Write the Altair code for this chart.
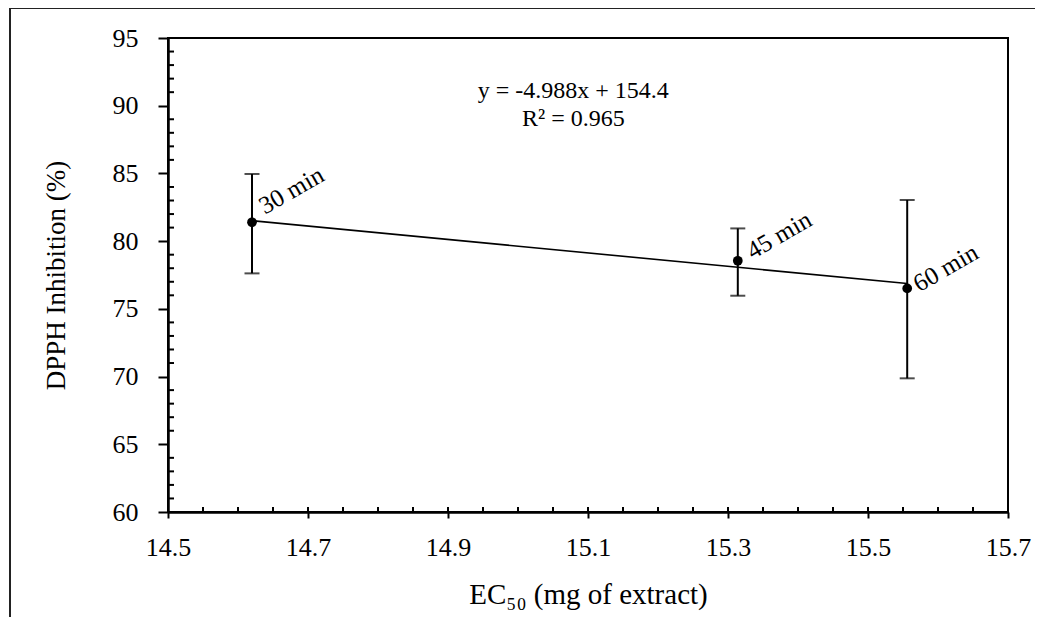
import altair as alt
import pandas as pd

# ---- data ----
time_labels = ["30 min", "45 min", "60 min"]
ec50 = [14.62, 15.314, 15.556]
inhibition = [81.39, 78.55, 76.51]
err_low = [77.62, 75.97, 69.87]
err_high = [84.96, 80.94, 83.04]

x_major = [14.5, 14.7, 14.9, 15.1, 15.3, 15.5, 15.7]
x_all = [round(14.5 + 0.05 * i, 2) for i in range(25)]
y_major = [60, 65, 70, 75, 80, 85, 90, 95]
y_minor = [v for v in range(60, 96) if v % 5 != 0]

equation = "y = -4.988x + 154.4"
r2_text = "R² = 0.965"

df = pd.DataFrame({
    "label": time_labels,
    "x": ec50,
    "y": inhibition,
    "lo": err_low,
    "hi": err_high,
})

FONT = "Liberation Serif"
W, H = 840, 474

xscale = alt.Scale(domain=[14.5, 15.7], nice=False, zero=False)
yscale = alt.Scale(domain=[60, 95], nice=False, zero=False)

x_axis_main = alt.Axis(
    values=x_major, format=".1f", title="EC₅₀ (mg of extract)",
    grid=False, domainColor="black", domainWidth=2.5, tickColor="black",
    tickWidth=2, tickSize=6, labelPadding=16, labelFontSize=26,
    labelFont=FONT, labelColor="black", titleFont=FONT, titleFontSize=29,
    titleFontWeight="normal", titleColor="black", titlePadding=20,
    labelFlush=False, labelOverlap=False,
)
y_axis_main = alt.Axis(
    values=y_major, format="d", title="DPPH Inhibition (%)",
    grid=False, domainColor="black", domainWidth=2.5, tickColor="black",
    tickWidth=2, tickSize=10, labelPadding=20, labelFontSize=26,
    labelFont=FONT, labelColor="black", titleFont=FONT, titleFontSize=27,
    titleFontWeight="normal", titleColor="black", titlePadding=42,
    labelFlush=False, labelOverlap=False,
)

X = lambda f: alt.X(f, scale=xscale, axis=None)
Y = lambda f: alt.Y(f, scale=yscale, axis=None)

base = alt.Chart(df)

# trend line (computed by Vega-Lite's regression)
trend = base.transform_regression("x", "y").mark_line(
    color="black", strokeWidth=1.6
).encode(
    x=alt.X("x:Q", scale=xscale, axis=x_axis_main),
    y=alt.Y("y:Q", scale=yscale, axis=y_axis_main),
)

bars = base.mark_rule(color="black", strokeWidth=2).encode(
    x=X("x:Q"), y=Y("lo:Q"), y2="hi:Q",
)
cap_lo = base.mark_tick(orient="horizontal", size=15, thickness=2, color="black").encode(
    x=X("x:Q"), y=Y("lo:Q")
)
cap_hi = base.mark_tick(orient="horizontal", size=15, thickness=2, color="black").encode(
    x=X("x:Q"), y=Y("hi:Q")
)
points = base.mark_circle(size=95, color="black", opacity=1).encode(
    x=X("x:Q"), y=Y("y:Q")
)

# offsets are applied in the rotated text frame
label_dx = {"30 min": 15, "45 min": 13.5, "60 min": 8.5}
label_dy = {"30 min": 0, "45 min": 6.5, "60 min": 9.5}
labels = []
for lab in time_labels:
    labels.append(
        base.transform_filter(alt.datum.label == lab).mark_text(
            angle=330, align="left", baseline="alphabetic", font=FONT,
            fontSize=25, color="black", dx=label_dx[lab], dy=label_dy[lab],
        ).encode(x=X("x:Q"), y=Y("y:Q"), text="label:N")
    )

eq1 = alt.Chart(pd.DataFrame({"t": [equation]})).mark_text(
    font=FONT, fontSize=24, color="black", align="center", baseline="middle"
).encode(x=alt.datum(15.079, scale=xscale, axis=None),
         y=alt.datum(91.1, scale=yscale, axis=None), text="t:N")
eq2 = alt.Chart(pd.DataFrame({"t": [r2_text]})).mark_text(
    font=FONT, fontSize=24, color="black", align="center", baseline="middle"
).encode(x=alt.datum(15.079, scale=xscale, axis=None),
         y=alt.datum(89.05, scale=yscale, axis=None), text="t:N")

# inside ticks drawn from the tick values through the scales
inner_x = alt.Chart(pd.DataFrame({"v": x_all})).mark_rule(color="black", strokeWidth=2).encode(
    x=X("v:Q"), y=alt.value(H - 5), y2=alt.value(H),
)
inner_y = alt.Chart(pd.DataFrame({"v": y_minor})).mark_rule(color="black", strokeWidth=2).encode(
    y=Y("v:Q"), x=alt.value(0), x2=alt.value(6),
)

# outer picture frame (left and top edges)
frame_left = alt.Chart(pd.DataFrame({"a": [0]})).mark_rule(color="#222", strokeWidth=2).encode(
    x=alt.value(-158), y=alt.value(-30), y2=alt.value(H + 110)
)
frame_top = alt.Chart(pd.DataFrame({"a": [0]})).mark_rule(color="#222", strokeWidth=2).encode(
    x=alt.value(-158), x2=alt.value(W + 30), y=alt.value(-30)
)

chart = alt.layer(
    trend, inner_x, inner_y, bars, cap_lo, cap_hi, points, *labels, eq1, eq2,
    frame_left, frame_top,
).resolve_axis(x="independent", y="independent").properties(
    width=W, height=H,
    background="white",
    autosize=alt.AutoSizeParams(type="none"),
    padding={"left": 160, "top": 30, "right": 27, "bottom": 105},
).configure_view(stroke="black", strokeWidth=2)

chart.save("out.html", embed_options={"renderer": "svg", "actions": False})
